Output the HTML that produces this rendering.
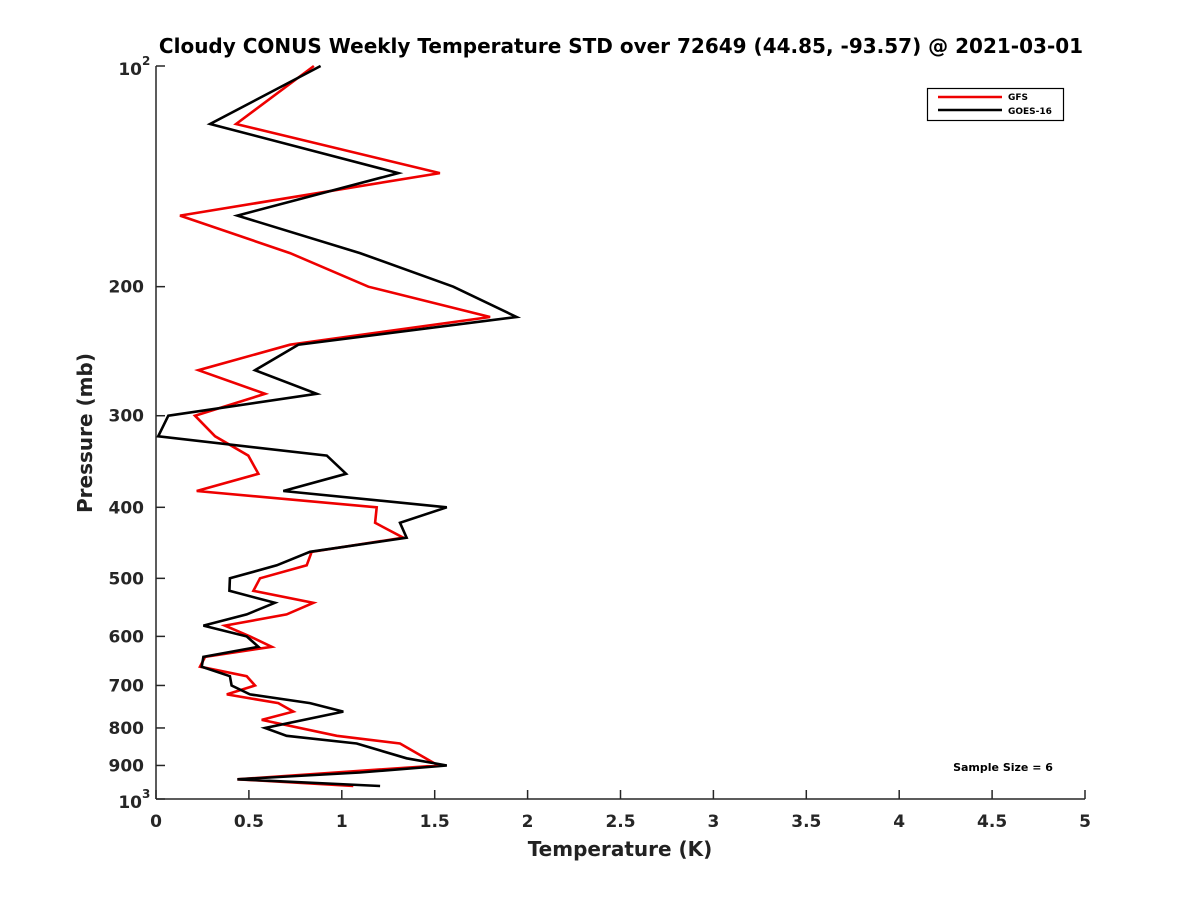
<!DOCTYPE html>
<html><head><meta charset="utf-8"><style>
body{margin:0;background:#fff;}
svg text{font-family:"DejaVu Sans","Liberation Sans",sans-serif;}
</style></head><body>
<svg id="chart" width="1200" height="900" xmlns="http://www.w3.org/2000/svg">
<text x="621" y="53" text-anchor="middle" font-size="20" font-weight="bold" fill="#000">Cloudy CONUS Weekly Temperature STD over 72649 (44.85, -93.57) @ 2021-03-01</text>
<g id="axes"></g>
<g id="series"></g>
<g>
<rect x="927.5" y="88.5" width="136" height="32" fill="#fff" stroke="#000" stroke-width="1.2"/>
<line x1="938" y1="97" x2="1002" y2="97" stroke="#e00" stroke-width="2.5"/>
<text x="1008" y="100" font-size="9" font-weight="bold">GFS</text>
<line x1="938" y1="110" x2="1002" y2="110" stroke="#000" stroke-width="2.5"/>
<text x="1008" y="114" font-size="9" font-weight="bold">GOES-16</text>
</g>
<text x="1003" y="771" text-anchor="middle" font-size="11" font-weight="bold">Sample Size = 6</text>
<text x="620" y="856" text-anchor="middle" font-size="20" font-weight="bold" fill="#222">Temperature (K)</text>
<text transform="translate(92,433) rotate(-90)" text-anchor="middle" font-size="20" font-weight="bold" fill="#222">Pressure (mb)</text>
</svg>
<script>
const xTicks=[0,0.5,1,1.5,2,2.5,3,3.5,4,4.5,5];
const yTicks=[200,300,400,500,600,700,800,900];
const gfsP=[100,120,140,160,180,200,220,240,260,280,300,320,340,360,380,400,420,440,460,480,500,520,540,560,580,600,620,640,660,680,700,720,740,760,780,820,840,900,940,960];
const gfsT=[0.850,0.431,1.528,0.129,0.721,1.143,1.798,0.721,0.228,0.587,0.210,0.318,0.497,0.551,0.219,1.188,1.179,1.331,0.838,0.811,0.560,0.524,0.847,0.703,0.371,0.506,0.623,0.264,0.237,0.488,0.533,0.381,0.658,0.739,0.569,0.973,1.313,1.519,0.438,1.062];
const goesP=[100,120,140,160,180,200,220,240,260,280,300,320,340,360,380,400,420,440,460,480,500,520,540,560,580,600,620,640,660,680,700,720,740,760,800,820,840,880,900,920,940,960];
const goesT=[0.886,0.291,1.304,0.438,1.098,1.600,1.941,0.766,0.533,0.865,0.066,0.012,0.919,1.023,0.685,1.565,1.313,1.349,0.829,0.650,0.398,0.395,0.640,0.488,0.255,0.488,0.551,0.255,0.246,0.398,0.407,0.506,0.829,1.008,0.587,0.703,1.080,1.349,1.565,1.098,0.438,1.206];
const L=156,R=1085,T=66,B=799;
const xs=v=>L+(R-L)*v/5;
const ys=p=>T+(B-T)*Math.log10(p/100);
const NS="http://www.w3.org/2000/svg";
function mk(tag,attrs,parent){const e=document.createElementNS(NS,tag);for(const k in attrs)e.setAttribute(k,attrs[k]);parent.appendChild(e);return e;}
const ax=document.getElementById('axes');
let e=mk('line',{x1:L,y1:T,x2:L,y2:B,stroke:'#262626','stroke-width':1.5},ax);


e=mk('line',{x1:L,y1:B,x2:R,y2:B,stroke:'#262626','stroke-width':1.5},ax);


xTicks.forEach(v=>{
 const x=xs(v);
 let t=mk('line',{x1:x,y1:B,x2:x,y2:B-9,stroke:'#262626','stroke-width':1.5},ax);
 
 
 let l=mk('text',{x:x,y:B+28,'text-anchor':'middle','font-size':17,'font-weight':'bold',fill:'#262626'},ax);
 l.textContent=String(v);
 
 
});
[100].concat(yTicks,[1000]).forEach(p=>{
 const y=ys(p);
 let t=mk('line',{x1:L,y1:y,x2:L+9,y2:y,stroke:'#262626','stroke-width':1.5},ax);
 
 
});
yTicks.forEach(p=>{
 let l=mk('text',{x:L-12,y:ys(p)+6,'text-anchor':'end','font-size':17,'font-weight':'bold',fill:'#262626'},ax);
 l.textContent=String(p);
 
 
});
[[100,'2'],[1000,'3']].forEach(([p,ex])=>{
 let l=mk('text',{x:L-14,y:ys(p)+9,'text-anchor':'end','font-size':17,'font-weight':'bold',fill:'#262626'},ax);
 l.textContent='10';
 
 
 let s=mk('text',{x:L-14,y:ys(p)-1,'font-size':12,'font-weight':'bold',fill:'#262626'},ax);
 s.textContent=ex;
 
 
});
const sg=document.getElementById('series');
function line(P,Tv,color,name){
 const pts=P.map((p,i)=>xs(Tv[i]).toFixed(1)+','+ys(p).toFixed(1)).join(' ');
 const pl=mk('polyline',{points:pts,fill:'none',stroke:color,'stroke-width':2.6,'stroke-linejoin':'miter'},sg);
 
 
}
line(gfsP,gfsT,'#e00','gfs-line');
line(goesP,goesT,'#000','goes-16-line');
</script>
</body></html>
